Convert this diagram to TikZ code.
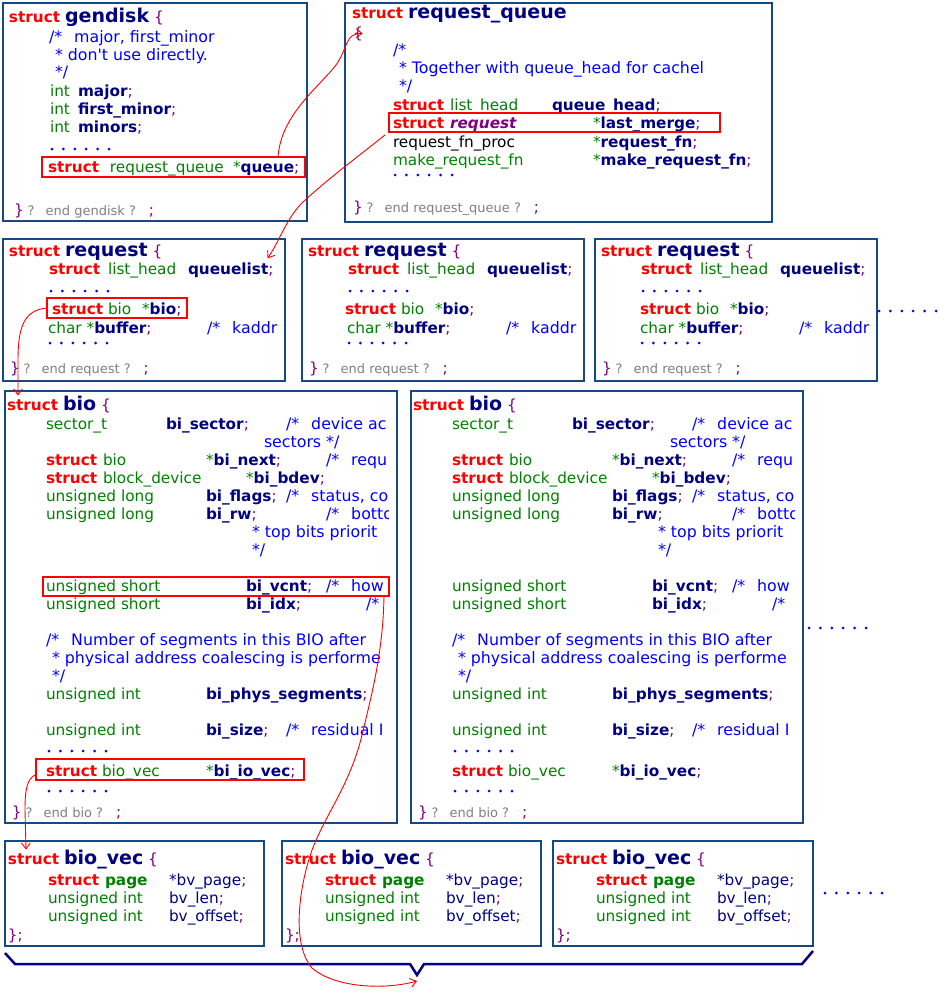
\documentclass[tikz,border=0pt]{standalone}
\usepackage{fontspec}
\setmainfont{DejaVu Sans}[Ligatures=TeXOff]
\usetikzlibrary{arrows.meta}

% syntax colours
\definecolor{kwred}{RGB}{255,0,0}
\definecolor{navyc}{RGB}{0,0,128}
\definecolor{typegreen}{RGB}{0,128,0}
\definecolor{puncpurple}{RGB}{128,0,128}
\definecolor{cmtblue}{RGB}{0,0,255}
\definecolor{endgray}{RGB}{128,128,128}
\definecolor{boxblue}{RGB}{22,72,132}

% font sizes
\newcommand\fbody{\fontsize{15.3}{18}\selectfont}
\newcommand\fttl{\fontsize{19}{22}\selectfont\bfseries}
\newcommand\fendl{\fontsize{13}{16}\selectfont}
\newcommand\fcmt{\fontsize{15.8}{18}\selectfont}

% token helpers
\newcommand\ckw[1]{\textcolor{kwred}{\bfseries #1}}
\newcommand\cty[1]{\textcolor{typegreen}{#1}}
\newcommand\cfl[1]{\textcolor{navyc}{\bfseries #1}}
\newcommand\cpu[1]{\textcolor{puncpurple}{#1}}
\newcommand\cco[1]{{\fcmt\textcolor{cmtblue}{#1}}}
\newcommand\cgr[1]{\textcolor{endgray}{#1}}
\newcommand\opc{/*\hspace{12pt}}
\newcommand\cttl[1]{{\fttl\textcolor{navyc}{#1}}}
\newcommand\cend[1]{\cpu{\}}\hspace{4pt}{\fendl\cgr{?\hspace{11pt}#1 ?}}\hspace{13pt}\cpu{;}}
\newcommand\colw[2]{\makebox[#1pt][l]{#2}}

\tikzset{
  structbox/.style={draw=boxblue, line width=2.5pt, fill=white, anchor=north west, inner sep=0pt, outer sep=0pt},
  hlbox/.style={draw=kwred, line width=2pt, anchor=north west, inner sep=0pt, outer sep=0pt},
  txt/.style={anchor=base west, inner sep=0pt, outer sep=0pt, font=\fbody},
  redline/.style={draw=kwred, line width=0.9pt, -{Straight Barb[length=6pt,width=9pt]}},
  bracestyle/.style={draw=navyc, line width=2.5pt, line join=miter},
  dotrow/.pic={\foreach \k in {0,...,5} \fill[cmtblue] (\k*11.4,0) circle[radius=1.5pt];}
}

% struct request box: #1 name, #2 left edge, #3 x of the bio member line
\newcommand\reqbox[3]{%
\begin{scope}[shift={(#2,239)}]
  \node[structbox, minimum width=282, minimum height=142] (#1) at (0,0) {};
  \node[txt] (#1-t) at (6,17) {\ckw{struct} \cttl{request} \cpu{\{}};
  \node[txt] (#1-ql) at (46,35) {\colw{59}{\ckw{struct}}\colw{80}{\cty{list\_head}}\cfl{queuelist}\cpu{;}};
  \pic at (48,52) {dotrow};
  \node[txt] (#1-bio) at (#3,75) {\colw{56}{\ckw{struct}}\colw{34}{\cty{bio}}\cty{*}\cfl{bio}\cpu{;}};
  \node[txt] (#1-buf) at (45,94) {\colw{159}{\cty{char} \cty{*}\cfl{buffer}\cpu{;}}\cco{\opc kaddr}};
  \pic at (47,104) {dotrow};
  \node[txt] (#1-end) at (7,134) {\cend{end request}};
\end{scope}}

% struct bio box: #1 name, #2 horizontal offset
\newcommand\biobox[2]{%
\begin{scope}[shift={(#2,0)}]
  \node[structbox, minimum width=392, minimum height=432] (#1) at (5,391) {};
  \begin{scope}
    \clip (7,393) rectangle (388,821);
    \node[txt] (#1-t) at (7,410) {\ckw{struct} \cttl{bio} \cpu{\{}};
    \node[txt] (#1-l1) at (46,429) {\colw{120}{\cty{sector\_t}}\colw{120}{\cfl{bi\_sector}\cpu{;}}\cco{\opc device ac}};
    \node[txt] (#1-l2) at (264,447) {\cco{sectors */}};
    \node[txt] (#1-l3) at (46,465) {\colw{57}{\ckw{struct}}\colw{103}{\cty{bio}}\colw{120}{\cty{*}\cfl{bi\_next}\cpu{;}}\cco{\opc requ}};
    \node[txt] (#1-l4) at (46,483) {\colw{57}{\ckw{struct}}\colw{143}{\cty{block\_device}}\cty{*}\cfl{bi\_bdev}\cpu{;}};
    \node[txt] (#1-l5) at (46,501) {\colw{160}{\cty{unsigned long}}\colw{80}{\cfl{bi\_flags}\cpu{;}}\cco{\opc status, co}};
    \node[txt] (#1-l6) at (46,519) {\colw{160}{\cty{unsigned long}}\colw{120}{\cfl{bi\_rw}\cpu{;}}\cco{\opc botto}};
    \node[txt] (#1-l7) at (252,537) {\cco{* top bits priorit}};
    \node[txt] (#1-l8) at (252,555) {\cco{*/}};
    \node[txt] (#1-l9) at (46,591) {\colw{200}{\cty{unsigned short}}\colw{80}{\cfl{bi\_vcnt}\cpu{;}}\cco{\opc how}};
    \node[txt] (#1-l10) at (46,609) {\colw{200}{\cty{unsigned short}}\colw{120}{\cfl{bi\_idx}\cpu{;}}\cco{/*}};
    \node[txt] (#1-l11) at (46,645) {\cco{\opc Number of segments in this BIO after}};
    \node[txt] (#1-l12) at (52,663) {\cco{* physical address coalescing is performe}};
    \node[txt] (#1-l13) at (52,681) {\cco{*/}};
    \node[txt] (#1-l14) at (46,699) {\colw{160}{\cty{unsigned int}}\cfl{bi\_phys\_segments}\cpu{;}};
    \node[txt] (#1-l15) at (46,735) {\colw{160}{\cty{unsigned int}}\colw{80}{\cfl{bi\_size}\cpu{;}}\cco{\opc residual I}};
    \pic at (49,751) {dotrow};
    \node[txt] (#1-l16) at (46,776) {\colw{56}{\ckw{struct}}\colw{104}{\cty{bio\_vec}}\cty{*}\cfl{bi\_io\_vec}\cpu{;}};
    \pic at (49,791) {dotrow};
    \node[txt] (#1-end) at (12,817) {\cend{end bio}};
  \end{scope}
\end{scope}}

% struct bio_vec box: #1 name, #2 horizontal offset, #3 width
\newcommand\bvecbox[3]{%
\begin{scope}[shift={(#2,0)}]
  \node[structbox, minimum width=#3, minimum height=105] (#1) at (5,841) {};
  \node[txt] (#1-t) at (8,864) {\ckw{struct} \cttl{bio\_vec} \cpu{\{}};
  \node[txt] (#1-l1) at (48,885) {\colw{57}{\ckw{struct}}\colw{64}{\textcolor{typegreen}{\bfseries page}}\textcolor{navyc}{*bv\_page}\cpu{;}};
  \node[txt] (#1-l2) at (48,903) {\colw{121}{\cty{unsigned int}}\textcolor{navyc}{bv\_len}\cpu{;}};
  \node[txt] (#1-l3) at (48,921) {\colw{121}{\cty{unsigned int}}\textcolor{navyc}{bv\_offset}\cpu{;}};
  \node[txt] (#1-end) at (8,940) {\cpu{\};}};
\end{scope}}

\begin{document}
\begin{tikzpicture}[x=1pt,y=-1pt]
\fill[white] (0,0) rectangle (950,1001);
\useasboundingbox (0,0) rectangle (950,1001);

% ---------- struct gendisk ----------
\node[structbox, minimum width=304, minimum height=218] (gendisk) at (3,3) {};
\node[txt] (gd-t) at (9,23) {\ckw{struct} \cttl{gendisk} \cpu{\{}};
\node[txt] (gd-c1) at (49,42) {\cco{\opc major, first\_minor}};
\node[txt] (gd-c2) at (55,60) {\cco{* don't use directly.}};
\node[txt] (gd-c3) at (55,77) {\cco{*/}};
\node[txt] (gd-f1) at (50,96) {\colw{28}{\cty{int}}\cfl{major}\cpu{;}};
\node[txt] (gd-f2) at (50,114) {\colw{28}{\cty{int}}\cfl{first\_minor}\cpu{;}};
\node[txt] (gd-f3) at (50,132) {\colw{28}{\cty{int}}\cfl{minors}\cpu{;}};
\pic at (52,149) {dotrow};
\node[txt] (gd-f4) at (48,172) {\colw{62}{\ckw{struct}}\colw{123}{\cty{request\_queue}}\cty{*}\cfl{queue}\cpu{;}};
\node[txt] (gd-end) at (14,215) {\cend{end gendisk}};
\node[hlbox, minimum width=263, minimum height=20] (hl-queue) at (42,157) {};

% ---------- struct request_queue ----------
\node[structbox, minimum width=427, minimum height=219] (rqueue) at (345,3) {};
\node[txt] (rq-t) at (352,19) {\ckw{struct} \cttl{request\_queue}};
\node[txt] (rq-open) at (353,38) {\cpu{\{}};
\node[txt] (rq-c1) at (393,55) {\cco{/*}};
\node[txt] (rq-c2) at (399,73) {\cco{* Together with queue\_head for cachel}};
\node[txt] (rq-c3) at (399,91) {\cco{*/}};
\node[txt] (rq-f1) at (393,110) {\colw{57}{\ckw{struct}}\colw{102}{\cty{list\_head}}\cfl{queue\_head}\cpu{;}};
\node[txt] (rq-f2) at (393,128) {\colw{57}{\ckw{struct}}\colw{143}{\textcolor{puncpurple}{\bfseries\itshape request}}\cty{*}\cfl{last\_merge}\cpu{;}};
\node[txt] (rq-f3) at (393,147) {\colw{200}{request\_fn\_proc}\cty{*}\cfl{request\_fn}\cpu{;}};
\node[txt] (rq-f4) at (393,165) {\colw{200}{\cty{make\_request\_fn}}\cty{*}\cfl{make\_request\_fn}\cpu{;}};
\pic at (395,175) {dotrow};
\node[txt] (rq-end) at (353,212) {\cend{end request\_queue}};
\node[hlbox, minimum width=331, minimum height=19] (hl-lm) at (389,113) {};

% ---------- struct request (three of them) ----------
\reqbox{req1}{3}{49}
\reqbox{req2}{302}{43}
\reqbox{req3}{595}{45}
\node[hlbox, minimum width=140, minimum height=20] (hl-bio) at (47,298) {};
\pic at (879,311) {dotrow};

% ---------- struct bio (two of them) ----------
\biobox{bio1}{0}
\biobox{bio2}{406}
\node[hlbox, minimum width=346, minimum height=19] (hl-vcnt) at (43,577) {};
\node[hlbox, minimum width=268, minimum height=21] (hl-iov) at (36,759) {};
\pic at (809,628) {dotrow};

% ---------- struct bio_vec (three of them) ----------
\bvecbox{bv1}{0}{259}
\bvecbox{bv2}{277}{259}
\bvecbox{bv3}{548}{260}
\pic at (825,893) {dotrow};

% brace grouping the bio_vec array
\coordinate (brace-tip) at (417,975);
\draw[bracestyle] (5,953) -- (15,964) -- (410,964) -- (brace-tip) -- (424,964) -- (802,964) -- (813,951);

% ---------- pointer links ----------
\draw[redline] ([xshift=-27pt]hl-queue.north east)
  .. controls (281,115) and (318,88) .. (336,65)
  .. controls (348,48) and (345,33) .. (rq-open.east);
\draw[redline] ([xshift=-4pt,yshift=-3pt]hl-lm.south west)
  .. controls (360,155) and (320,185) .. (300,205)
  .. controls (285,222) and (280,240) .. ([xshift=-6pt,yshift=4pt]req1-ql.north east);
\draw[redline] (hl-bio.west)
  .. controls (25,310) and (18,325) .. (18,360)
  -- ([xshift=11pt]bio1-t.north west);
\draw[redline] ([yshift=-5pt]hl-iov.west)
  .. controls (27,778) and (25,790) .. (25,810)
  -- ([xshift=18pt]bv1-t.north west);
\draw[redline] ([xshift=-5pt]hl-vcnt.south east)
  .. controls (383,650) and (373,690) .. (362,735)
  .. controls (350,785) and (325,815) .. (312,850)
  .. controls (298,890) and (292,945) .. (312,968)
  .. controls (335,988) and (385,990) .. ([yshift=-6pt]brace-tip);
\end{tikzpicture}
\end{document}
